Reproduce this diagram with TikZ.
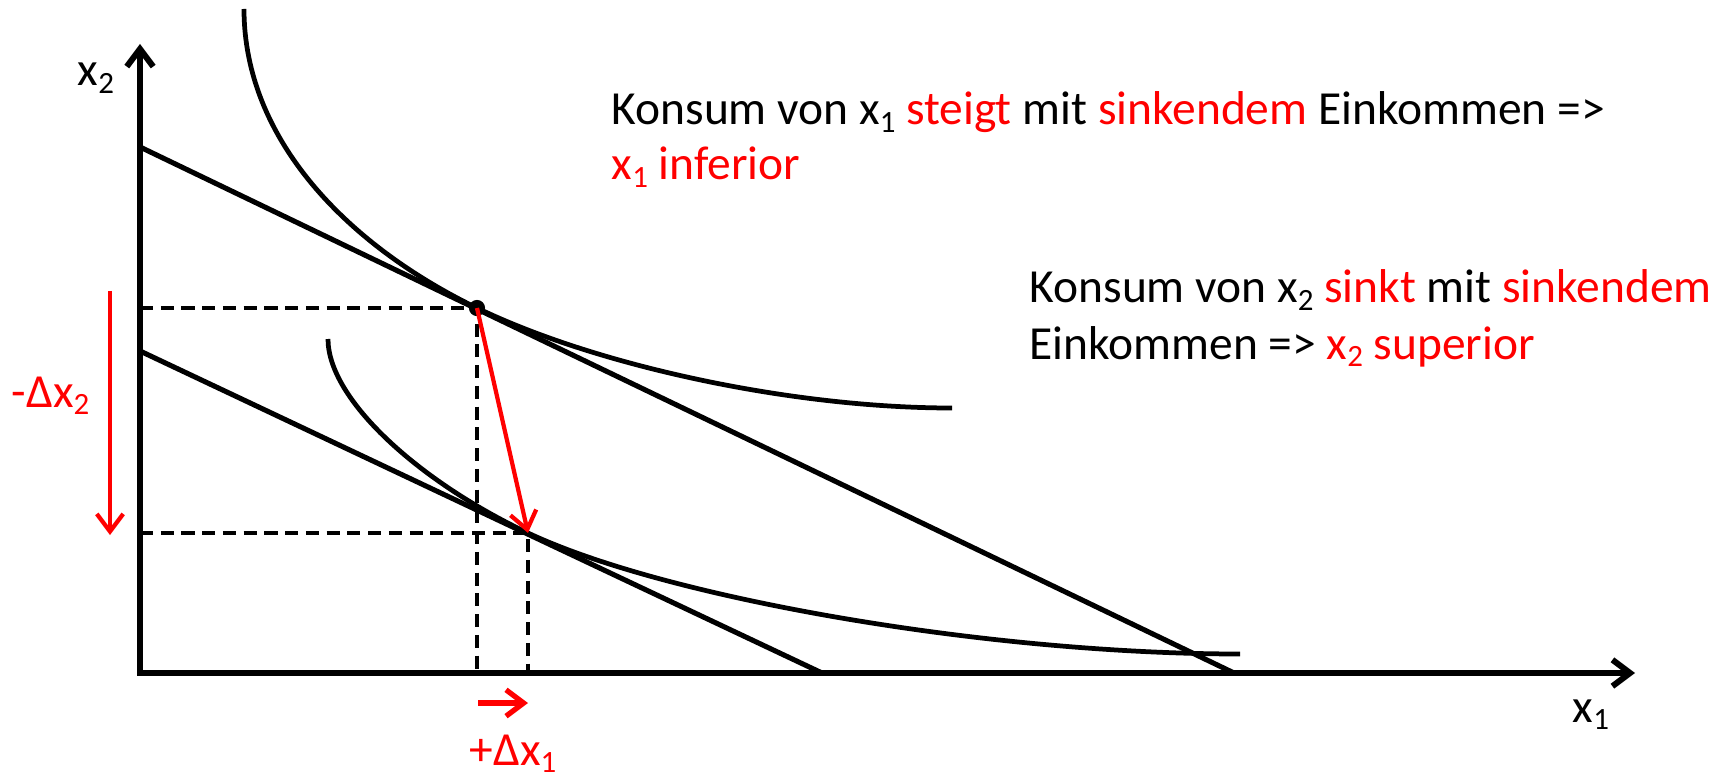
\documentclass[tikz,border=0pt]{standalone}
\usepackage{fontspec}
\setmainfont{Carlito}
\usetikzlibrary{arrows.meta}

\newcommand{\lowidx}[1]{\raisebox{-2pt}{\fontsize{8.8}{8}\selectfont #1}}

\begin{document}
\begin{tikzpicture}[x=0.01cm, y=-0.01cm,
    axis/.style={line width=1.7pt,
                 {Straight Barb[length=5pt, width=7.5pt]}-{Straight Barb[length=5pt, width=7.5pt]}},
    budget/.style={line width=1.45pt},
    indiff/.style={line width=1.35pt},
    guide/.style={line width=1.4pt, dash pattern=on 3.7pt off 2.2pt},
    change/.style={red, line width=1.2pt, -{Straight Barb[length=5pt, width=7.5pt]}},
    lbl/.style={font=\fontsize{13.5}{15.6}\selectfont, inner sep=0pt, anchor=base west}]
    \useasboundingbox (0,0) rectangle (1733,776);

    % axes
    \coordinate (O) at (140,673);
    \coordinate (ytip) at (140,44);
    \coordinate (xtip) at (1635,673);
    \draw[axis] (ytip) |- (xtip);
    \node[lbl] (lx2) at (77,86) {x\lowidx{2}};
    \node[lbl] (lx1) at (1572,722) {x\lowidx{1}};

    % budget lines and optima
    \coordinate (A) at (477,308);
    \coordinate (B) at (528,533);
    \coordinate (m1) at (140,147);
    \coordinate (m1x) at (1234,673);
    \coordinate (m2) at (140,351);
    \coordinate (m2x) at (822,673);
    \draw[budget] (m1) -- (m1x);
    \draw[budget] (m2) -- (m2x);

    % indifference curves
    \draw[indiff] (244,9) .. controls (244,139) and (347,245) .. (A)
                  .. controls (597,366) and (792,408) .. (952,408);
    \draw[indiff] (328,339) .. controls (328,399) and (418,481) .. (B)
                  .. controls (668,599) and (990,654) .. (1240,654);

    % guides
    \draw[guide] (O |- A) -- (A) -- (A |- O);
    \draw[guide] (O |- B) -- (B) -- (B |- O);
    \node[circle, fill, inner sep=0pt, minimum size=4.6pt] (dotA) at (A) {};

    % change of consumption
    \draw[change] (A) -- (B);
    \coordinate (d2top) at (110,291);
    \coordinate (d2bot) at (110,535);
    \draw[change] (d2top) -- (d2bot);
    \node[lbl, red] (dx2) at (11,407) {-Δx\lowidx{2}};
    \coordinate (d1l) at (478,703);
    \coordinate (d1r) at (528,703);
    \draw[change, line width=1.5pt] (d1l) -- (d1r);
    \node[lbl, red] (dx1) at (469,765) {+Δx\lowidx{1}};

    % comments
    \node[lbl] (t1a) at (611,125) {Konsum von x\lowidx{1} \textcolor{red}{steigt} mit \textcolor{red}{sinkendem} Einkommen =>};
    \node[lbl, red] (t1b) at (611,180) {x\lowidx{1} inferior};
    \node[lbl] (t2a) at (1029,303) {Konsum von x\lowidx{2} \textcolor{red}{sinkt} mit \textcolor{red}{sinkendem}};
    \node[lbl] (t2b) at (1029,359) {Einkommen => \textcolor{red}{x\lowidx{2} superior}};
\end{tikzpicture}
\end{document}
